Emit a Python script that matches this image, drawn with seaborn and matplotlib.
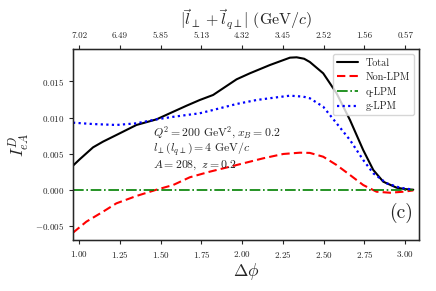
import numpy as np
import pandas as pd
import matplotlib
matplotlib.use('Agg')
import matplotlib.pyplot as plt
import seaborn as sns

# values
dphi_total = [0.963, 1.004, 1.086, 1.147, 1.229, 1.352, 1.475, 1.577, 1.659, 1.740, 1.822,
              1.966, 2.047, 2.170, 2.293, 2.334, 2.380, 2.415, 2.497, 2.538, 2.579, 2.661,
              2.742, 2.804, 2.865, 2.947, 3.000, 3.049]
total = [0.00333, 0.00421, 0.00587, 0.00666, 0.00758, 0.00897, 0.00975, 0.0108, 0.01164, 0.01243,
         0.01313, 0.0153, 0.01613, 0.01728, 0.01830, 0.01835, 0.01815, 0.0177, 0.01613, 0.01475,
         0.01336, 0.00966, 0.0055, 0.00273, 0.00111, 0.00028, 0.00008, 0.0]

dphi_nonlpm = [0.963, 1.045, 1.147, 1.229, 1.352, 1.475, 1.577, 1.679, 1.802, 1.966, 2.129,
               2.252, 2.354, 2.415, 2.497, 2.579, 2.661, 2.742, 2.824, 2.906, 2.988, 3.049]
nonlpm = [-0.00596, -0.00443, -0.00305, -0.00189, -0.00087, 0.0, 0.00065, 0.00172, 0.0025,
          0.00342, 0.00435, 0.00495, 0.00513, 0.00510, 0.00457, 0.00342, 0.00204, 0.00065,
          -0.00028, -0.00042, -0.00028, -0.0001]

dphi_qlpm = [0.963, 3.049]
qlpm = [0.0, 0.0]

dphi_glpm = [0.963, 1.086, 1.229, 1.352, 1.475, 1.577, 1.659, 1.740, 1.822, 1.966, 2.088,
             2.211, 2.293, 2.374, 2.415, 2.497, 2.579, 2.661, 2.742, 2.804, 2.886, 2.967, 3.049]
glpm = [0.00929, 0.0091, 0.00897, 0.0092, 0.00975, 0.0101, 0.01035, 0.01059, 0.01105, 0.01188,
        0.01243, 0.0128, 0.01303, 0.0129, 0.01267, 0.0115, 0.0092, 0.00689, 0.00412, 0.00227,
        0.00089, 0.00028, 0.0]

top_ticks = [1.00, 1.25, 1.50, 1.75, 2.00, 2.25, 2.50, 2.75, 3.00]
top_labels = ['7.02', '6.49', '5.85', '5.13', '4.32', '3.45', '2.52', '1.56', '0.57']

sns.set_style('ticks')
plt.rcParams['font.family'] = 'serif'
plt.rcParams['font.serif'] = ['cmr10', 'DejaVu Serif']
plt.rcParams['mathtext.fontset'] = 'cm'
plt.rcParams['axes.formatter.use_mathtext'] = True
plt.rcParams['axes.unicode_minus'] = True

fig = plt.figure(figsize=(4.36, 2.91), dpi=100)
ax = fig.add_axes([0.1674, 0.1753, 0.7943, 0.6553])

sns.lineplot(x=dphi_total, y=total, ax=ax, color='black', lw=1.5, label='Total')
sns.lineplot(x=dphi_nonlpm, y=nonlpm, ax=ax, color='red', lw=1.5, linestyle=(0, (4, 2)), label='Non-LPM')
sns.lineplot(x=dphi_qlpm, y=qlpm, ax=ax, color='green', lw=1.2, linestyle='-.', label='q-LPM')
sns.lineplot(x=dphi_glpm, y=glpm, ax=ax, color='blue', lw=1.6, linestyle=(0, (1, 1.5)), label='g-LPM')

ax.set_xlim(0.963, 3.086)
ax.set_ylim(-0.00697, 0.01946)
ax.set_xticks(top_ticks)
ax.tick_params(labelsize=6.5, length=3, width=0.8)
for s in ax.spines.values():
    s.set_linewidth(1.0)
    s.set_color('black')
ax.set_xlabel(r'$\Delta\phi$', fontsize=12.5, labelpad=1)
ax.set_ylabel(r'$I_{eA}^D$', fontsize=12.5, labelpad=3)

leg = ax.legend(loc='upper right', fontsize=7.3, handlelength=2.05, borderaxespad=0.5,
                labelspacing=0.45, frameon=True)

params = (r'$Q^2 = 200\ \mathrm{GeV}^2, x_B = 0.2$' + '\n'
          + r'$l_\perp(l_{q\perp}) = 4\ \mathrm{GeV}/c$' + '\n'
          + r'$A = 208,\ z = 0.2$')
ax.text(0.231, 0.603, params, transform=ax.transAxes, fontsize=8.5, va='top',
        ha='left', linespacing=1.0)
ax.text(0.982, 0.14, '(c)', transform=ax.transAxes, fontsize=14, ha='right', va='center')

ax2 = ax.twiny()
ax2.set_xlim(ax.get_xlim())
ax2.set_xticks(top_ticks)
ax2.set_xticklabels(top_labels)
ax2.tick_params(labelsize=6.5, length=3, width=0.8)
ax2.set_xlabel(r'$|\vec{l}_\perp + \vec{l}_{q\perp}|\ (\mathrm{GeV}/c)$', fontsize=11.5, labelpad=5)

fig.savefig('out.png', dpi=100)
